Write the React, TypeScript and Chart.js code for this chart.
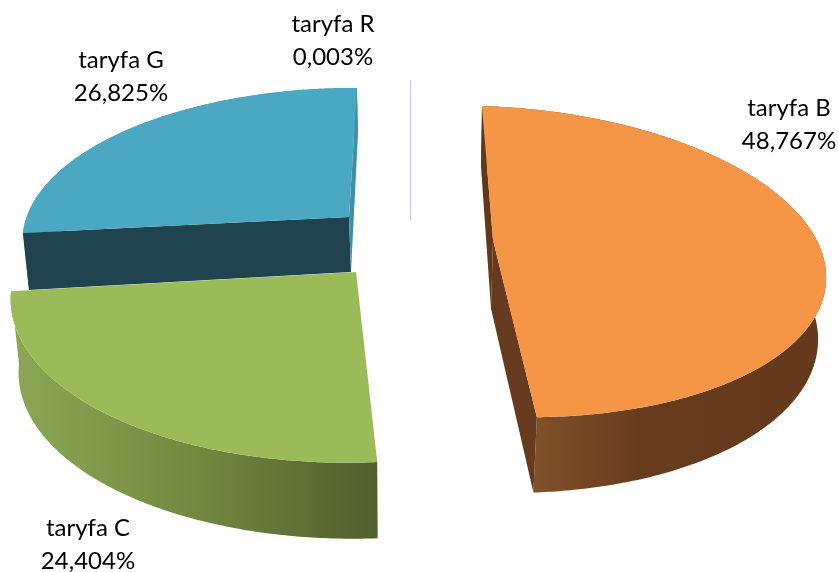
import React, { useEffect, useRef } from "react";
import { Chart, registerables } from "chart.js";

Chart.register(...registerables);

const categories = ["taryfa B", "taryfa C", "taryfa G", "taryfa R"];
const values = [48.767, 24.404, 26.825, 0.003];
const topColors = ["#F49646", "#9BBB59", "#4AA8C3", "#D8BEE6"];

// how each exploded slice is projected onto the page
type View = {
  c: number[]; u: number[]; v: number[]; k: number;
  dx: number[]; dy: number[];
  wall?: string[]; cutS?: string; cutE?: string;
  gx?: number[];
};
const views: View[] = [
  { c: [493, 240], u: [328, 10], v: [12.5, 152.5], k: 0.138, dx: [-2, -6, -1], dy: [68.5, -8, 7.5],
    wall: ["#80512A", "#673C1E", "#653A1C"], cutS: "#62381B", cutE: "#663B1D", gx: [533, 640, 825] },
  { c: [356, 272], u: [340.8, 0], v: [-8.1, 164.4], k: 0.138, dx: [1, -7, 0], dy: [76, 3, 0],
    wall: ["#8BA653", "#71883F", "#4F5F2E"], cutS: "#5F7135", cutE: "#5F7135", gx: [20, 200, 378] },
  { c: [349, 217], u: [322, 1], v: [-9.1, 146.8], k: 0.138, dx: [2, -4, 1], dy: [55, -1, 8],
    wall: ["#3F8FA8", "#3F8FA8", "#3F8FA8"], cutS: "#1F444F", cutE: "#3F8FA8", gx: [20, 200, 358] },
  { c: [410.5, 220], u: [0, 0], v: [0, 159], k: 0.138, dx: [0, 0, 0], dy: [0, 0, 0] },
];
const drawOrder = [2, 3, 1, 0];
const labelAnchors = [[789, 108], [88, 528], [121, 60], [333, 24]];

const top = (s: View, t: number) => {
  const w = 1 - s.k * Math.sin(t);
  const a = Math.cos(t), b = Math.sin(t);
  return [s.c[0] + (a * s.u[0] + b * s.v[0]) / w, s.c[1] + (a * s.u[1] + b * s.v[1]) / w];
};
const drop = (s: View, t: number) => [
  s.dx[0] + s.dx[1] * Math.cos(t) + s.dx[2] * Math.sin(t),
  s.dy[0] + s.dy[1] * Math.cos(t) + s.dy[2] * Math.sin(t),
];
const low = (s: View, t: number) => {
  const p = top(s, t), d = drop(s, t);
  return [p[0] + d[0], p[1] + d[1]];
};
const poly = (ctx: CanvasRenderingContext2D, pts: number[][], fill: any) => {
  ctx.beginPath();
  pts.forEach((p, i) => (i ? ctx.lineTo(p[0], p[1]) : ctx.moveTo(p[0], p[1])));
  ctx.closePath();
  ctx.fillStyle = fill;
  ctx.fill();
};
const cross = (a: number[], b: number[], c: number[]) =>
  (b[0] - a[0]) * (c[1] - b[1]) - (b[1] - a[1]) * (c[0] - b[0]);

const pie3d = {
  id: "pie3d",
  beforeDatasetDraw(chart: any) {
    const ctx: CanvasRenderingContext2D = chart.ctx;
    const arcs = chart.getDatasetMeta(0).data;
    drawOrder.forEach((i) => {
      const s = views[i];
      const arc = arcs[i];
      const a0 = arc.startAngle, a1 = arc.endAngle;
      const n = Math.max(2, Math.ceil((a1 - a0) / 0.01));
      const ts = Array.from({ length: n + 1 }, (_, j) => a0 + ((a1 - a0) * j) / n);
      const rim = ts.map((t) => top(s, t));
      if (s.wall) {
        const g = ctx.createLinearGradient(s.gx![0], 0, s.gx![2], 0);
        g.addColorStop(0, s.wall[0]);
        g.addColorStop((s.gx![1] - s.gx![0]) / (s.gx![2] - s.gx![0]), s.wall[1]);
        g.addColorStop(1, s.wall[2]);
        poly(ctx, rim.concat(ts.map((t) => low(s, t)).reverse()), g);
        const d0 = [s.dx[0], s.dy[0]];
        const cb = [s.c[0] + d0[0], s.c[1] + d0[1]];
        const ps = top(s, a0), pe = top(s, a1), ls = low(s, a0), le = low(s, a1);
        if (cross(s.c, ps, ls) < 0) poly(ctx, [s.c, ps, ls, cb], s.cutS);
        if (cross(s.c, pe, le) > 0) poly(ctx, [s.c, pe, le, cb], s.cutE);
      }
      poly(ctx, [s.c, ...rim], arc.options.backgroundColor);
      if (!s.wall) {
        ctx.beginPath();
        ctx.moveTo(s.c[0], s.c[1]);
        ctx.lineTo(rim[0][0], rim[0][1]);
        ctx.strokeStyle = arc.options.backgroundColor;
        ctx.lineWidth = 1;
        ctx.stroke();
      }
    });
    return false;
  },
  afterDatasetsDraw(chart: any) {
    const ctx: CanvasRenderingContext2D = chart.ctx;
    ctx.save();
    ctx.font = '24px Lato, "Open Sans", sans-serif';
    ctx.fillStyle = "#000";
    ctx.textAlign = "center";
    ctx.textBaseline = "middle";
    categories.forEach((name, i) => {
      const [x, y] = labelAnchors[i];
      ctx.fillText(name, x, y);
      ctx.fillText(values[i].toFixed(3).replace(".", ",") + "%", x, y + 33);
    });
    ctx.restore();
  },
};

export default function App() {
  const ref = useRef<HTMLCanvasElement>(null);
  useEffect(() => {
    const chart = new Chart(ref.current!, {
      type: "pie",
      data: {
        labels: categories,
        datasets: [{ data: values, backgroundColor: topColors, borderWidth: 0 }],
      },
      options: {
        responsive: false,
        animation: false,
        plugins: { legend: { display: false }, tooltip: { enabled: false } },
      },
      plugins: [pie3d],
    } as any);
    return () => chart.destroy();
  }, []);
  return (
    <div style={{ position: "absolute", left: 0, top: 0, width: 838, height: 572, background: "#fff" }}>
      <canvas ref={ref} width={838} height={572} style={{ display: "block" }} />
    </div>
  );
}
